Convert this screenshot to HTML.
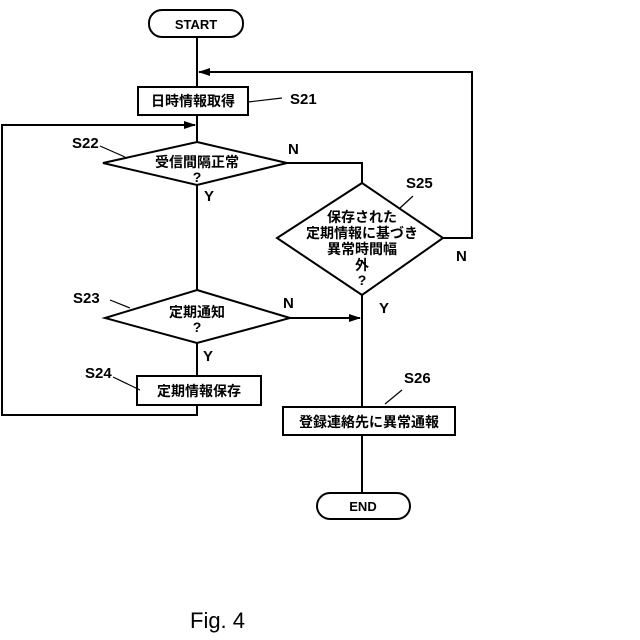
<!DOCTYPE html>
<html><head><meta charset="utf-8"><style>
html,body{margin:0;padding:0;background:#fff;}
svg{display:block;}
text{font-family:"Liberation Sans","Noto Sans CJK JP",sans-serif;fill:#000;}
.j{font-size:14px;font-weight:bold;}
.l{font-size:15px;font-weight:bold;}
</style></head><body>
<svg width="640" height="640" viewBox="0 0 640 640" xmlns="http://www.w3.org/2000/svg">
<defs><marker id="a" markerWidth="12" markerHeight="8" refX="11" refY="4" orient="auto" markerUnits="userSpaceOnUse"><path d="M0,0 L12,4 L0,8 Z" fill="#000"/></marker></defs>
<g stroke="#000" stroke-width="2" fill="none">
<rect x="149" y="10" width="94" height="27" rx="13"/>
<line x1="197" y1="37" x2="197" y2="87"/>
<polyline points="362,295 362,407"/>
<polyline points="443,238 472,238 472,72 199,72" marker-end="url(#a)"/>
<rect x="138" y="87" width="110" height="28" fill="#fff"/>
<line x1="197" y1="115" x2="197" y2="142"/>
<polyline points="197,405 197,415 2,415 2,125 195,125" marker-end="url(#a)"/>
<polygon points="197,142 287,163 197,185 103,163" fill="#fff"/>
<line x1="197" y1="185" x2="197" y2="290"/>
<polyline points="287,163 362,163 362,183"/>
<polygon points="362,183 443,238 362,295 277,238" fill="#fff"/>
<polygon points="197,290 290,318 197,343 105,318" fill="#fff"/>
<line x1="290" y1="318" x2="360" y2="318" marker-end="url(#a)"/>
<line x1="197" y1="343" x2="197" y2="376"/>
<rect x="137" y="376" width="124" height="29" fill="#fff"/>
<rect x="283" y="407" width="172" height="28" fill="#fff"/>
<line x1="362" y1="435" x2="362" y2="493"/>
<rect x="317" y="493" width="93" height="26" rx="13"/>
</g>
<g stroke="#000" stroke-width="1.2" fill="none">
<line x1="248" y1="102" x2="282" y2="98"/>
<line x1="100" y1="146" x2="125" y2="157"/>
<line x1="400" y1="208" x2="413" y2="196"/>
<line x1="110" y1="300" x2="130" y2="308"/>
<line x1="113" y1="377" x2="140" y2="390"/>
<line x1="385" y1="404" x2="402" y2="390"/>
</g>
<text x="196" y="29" text-anchor="middle" style="font-size:13px;font-weight:bold">START</text>
<text x="363" y="511" text-anchor="middle" style="font-size:13px;font-weight:bold">END</text>
<text class="j" x="193" y="106" text-anchor="middle">日時情報取得</text>
<text class="l" x="290" y="104">S21</text>
<text class="l" x="72" y="148">S22</text>
<text class="j" x="197" y="167" text-anchor="middle">受信間隔正常</text>
<text class="j" x="197" y="182" text-anchor="middle">?</text>
<text class="l" x="204" y="201">Y</text>
<text class="l" x="288" y="154">N</text>
<text class="l" x="406" y="188">S25</text>
<text class="j" x="362" y="222" text-anchor="middle">保存された</text>
<text class="j" x="362" y="238" text-anchor="middle">定期情報に基づき</text>
<text class="j" x="362" y="254" text-anchor="middle">異常時間幅</text>
<text class="j" x="362" y="270" text-anchor="middle">外</text>
<text class="j" x="362" y="285" text-anchor="middle">?</text>
<text class="l" x="456" y="261">N</text>
<text class="l" x="379" y="313">Y</text>
<text class="l" x="73" y="303">S23</text>
<text class="j" x="197" y="317" text-anchor="middle">定期通知</text>
<text class="j" x="197" y="332" text-anchor="middle">?</text>
<text class="l" x="283" y="308">N</text>
<text class="l" x="203" y="361">Y</text>
<text class="l" x="85" y="378">S24</text>
<text class="j" x="199" y="396" text-anchor="middle">定期情報保存</text>
<text class="l" x="404" y="383">S26</text>
<text class="j" x="369" y="427" text-anchor="middle">登録連絡先に異常通報</text>
<text x="190" y="628" style="font-size:22px">Fig. 4</text>
</svg>
</body></html>
